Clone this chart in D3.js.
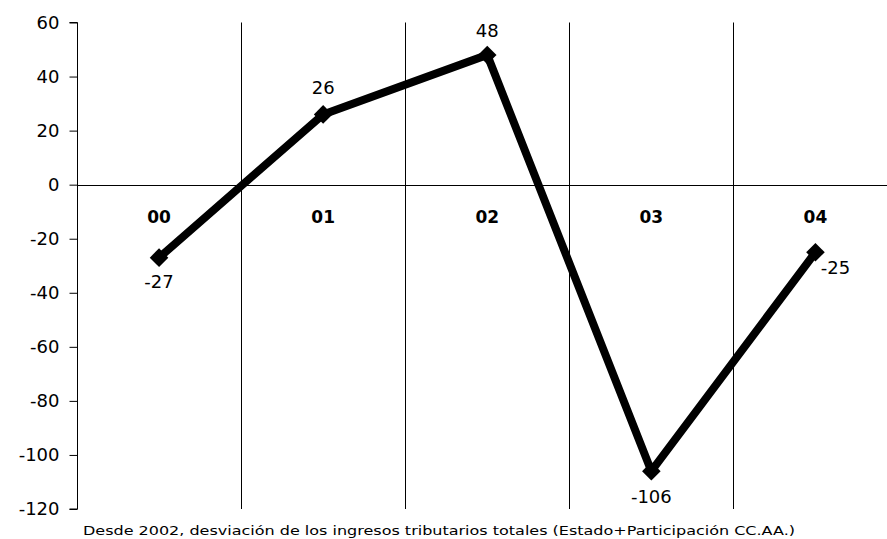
<!DOCTYPE html>
<html><head><meta charset="utf-8">
<script src="https://cdn.jsdelivr.net/npm/d3@7"></script>
<style>body{margin:0;background:#fff}svg{display:block}text{font-family:"DejaVu Sans",Verdana,sans-serif;fill:#000}</style>
</head><body>
<svg id="c" width="887" height="539"></svg>
<script>
const categories = ["00","01","02","03","04"];
const values = [-27, 26, 48, -106, -25];
const yTicks = [60,40,20,0,-20,-40,-60,-80,-100,-120];
const footnote = "Desde 2002, desviación de los ingresos tributarios totales (Estado+Participación CC.AA.)";

(function(){
const svg = d3.select("#c");
const left = 77, band = 164.1, plotTop = 22.5, plotBottom = 509;
const x = d3.scaleBand().domain(categories).range([left, left + band*categories.length]).paddingInner(0).paddingOuter(0);
const y = d3.scaleLinear().domain([-120, 60]).range([plotBottom, plotTop]);

svg.append("g").selectAll("line").data(categories.slice(1)).join("line")
  .attr("x1", d => Math.round(x(d))+0.5).attr("x2", d => Math.round(x(d))+0.5)
  .attr("y1", plotTop).attr("y2", plotBottom).attr("stroke", "#000").attr("stroke-width", 1);

svg.append("line").attr("x1", left).attr("x2", left + band*5)
  .attr("y1", Math.round(y(0))+0.5).attr("y2", Math.round(y(0))+0.5).attr("stroke", "#000");

const yAxis = d3.axisLeft(y).tickValues(yTicks).tickSize(8).tickPadding(10).tickFormat(d => String(d));
const gy = svg.append("g").attr("transform", `translate(${left+0.5},0)`).call(yAxis);
gy.select(".domain").attr("d", `M-8,${y(60)}H0V${y(-120)}H-8`).attr("stroke","#000");
gy.selectAll(".tick line").attr("stroke","#000");
gy.selectAll(".tick text").attr("font-size", 18).attr("font-family", '"DejaVu Sans",Verdana,sans-serif').attr("fill","#000");

svg.append("g").selectAll("text").data(categories).join("text")
  .attr("x", d => x(d) + band/2).attr("y", y(0) + 38)
  .attr("text-anchor", "middle").attr("font-size", 17).attr("font-weight", "bold").text(d => d);

const cx = d => x(d) + band/2;
const pts = categories.map((c,i) => ({c, v: values[i]}));

svg.append("path").datum(pts)
  .attr("d", d3.line().x(d => cx(d.c)).y(d => y(d.v)))
  .attr("fill","none").attr("stroke","#000").attr("stroke-width", 8).attr("stroke-linejoin","miter");

svg.append("g").selectAll("path").data(pts).join("path")
  .attr("transform", d => `translate(${cx(d.c)},${y(d.v)})`)
  .attr("d", d3.symbol().type(d3.symbolDiamond2).size(220)).attr("fill","#000");

const off = [[0,30],[0,-20],[0,-18],[0,32],[20,22]];
svg.append("g").selectAll("text").data(pts).join("text")
  .attr("x", (d,i) => cx(d.c) + off[i][0]).attr("y", (d,i) => y(d.v) + off[i][1])
  .attr("text-anchor", "middle")
  .attr("font-size", 18).text(d => String(d.v));

svg.append("text").attr("x", 83).attr("y", 535).attr("font-size", 13)
  .attr("textLength", 712).attr("lengthAdjust", "spacingAndGlyphs").text(footnote);
})();
</script>
</body></html>
